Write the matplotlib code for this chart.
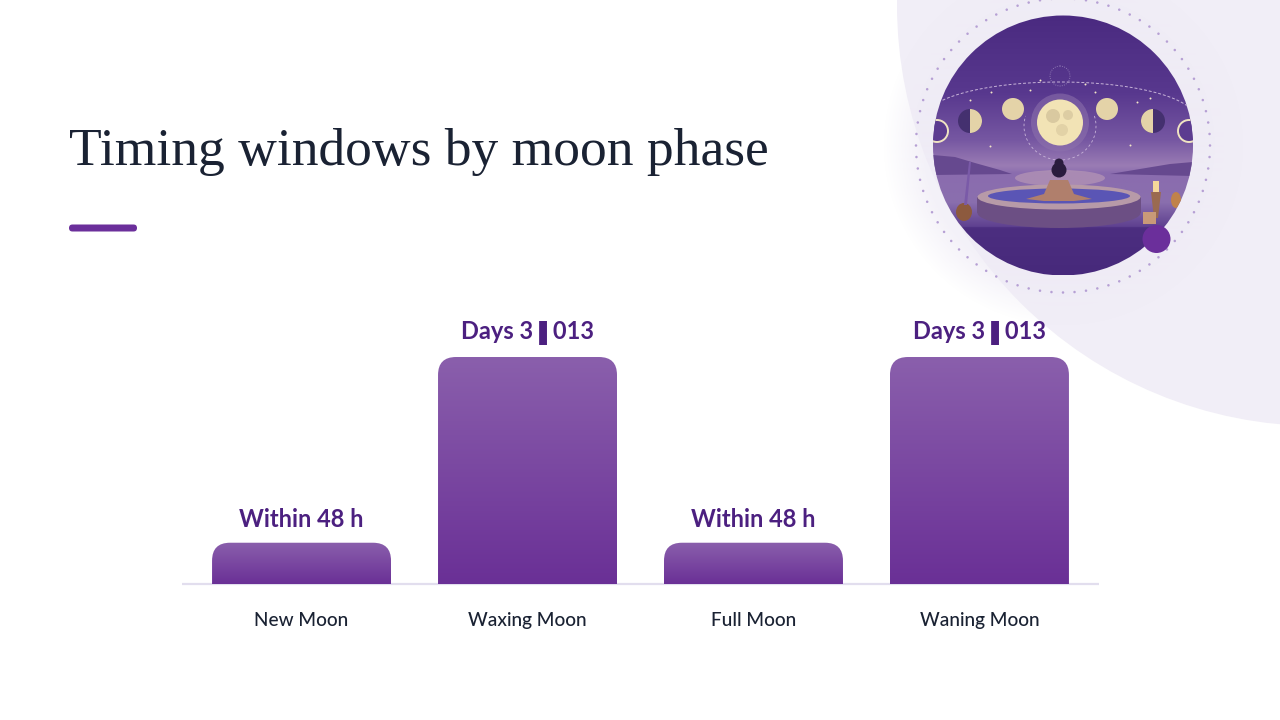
import numpy as np
import matplotlib
matplotlib.use('Agg')
import matplotlib.pyplot as plt
from matplotlib.colors import LinearSegmentedColormap, to_rgb
from matplotlib.patches import Circle, Ellipse, FancyBboxPatch, PathPatch, Polygon, Wedge
from matplotlib.path import Path

phases = ['New Moon', 'Waxing Moon', 'Full Moon', 'Waning Moon']
window_days = [2, 11, 2, 11]
window_labels = ['Within 48 h', 'Days 3\u275a013', 'Within 48 h', 'Days 3\u275a013']

PURPLE = '#6b2f9b'
DARK = '#4c2080'
INK = '#1a2233'

plt.rcParams['font.family'] = ['Lato', 'DejaVu Sans']

fig = plt.figure(figsize=(12.8, 7.2), dpi=100, facecolor='white')

# background layer in pixel coordinates
bg = fig.add_axes([0, 0, 1, 1])
bg.axis('off')

bg.add_patch(Circle((1318, 5), 421, color='#f1eef7', lw=0, zorder=0.2))

# soft glow behind the round picture
yy, xx = np.mgrid[-190:190, -190:190]
dist = np.hypot(xx, yy)
glow = np.zeros(dist.shape + (4,))
glow[..., :3] = to_rgb('#efecf6')
glow[..., 3] = np.clip((180 - dist) / 40, 0, 1) * 0.7
bg.imshow(glow, extent=(873, 1253, 335.5, -44.5), aspect='auto', zorder=0.5)

# dotted ring
for a in np.linspace(0, 2 * np.pi, 80, endpoint=False):
    bg.add_patch(Circle((1063 + 147 * np.cos(a), 145.5 + 147 * np.sin(a)), 1.25,
                        color='#b6a0d4', lw=0, zorder=1.2))

# picture inside the round frame
frame = Circle((1063, 145.5), 130, transform=bg.transData, fc='none', lw=0)
bg.add_patch(frame)
sky = LinearSegmentedColormap.from_list('sky', [
    (0.0, '#4a2a80'), (0.30, '#58388e'), (0.48, '#7657a2'), (0.58, '#9a7cb4'),
    (0.61, '#8a6cae'), (0.72, '#8a6fae'), (0.815, '#5f4190'), (0.82, '#4c2e80'), (1.0, '#47297b')])
img = bg.imshow(np.linspace(0, 1, 256).reshape(-1, 1), cmap=sky, aspect='auto',
                extent=(933, 1193, 275.5, 15.5), zorder=1)
img.set_clip_path(frame)
bg.set_xlim(0, 1280)
bg.set_ylim(720, 0)


def scene(patch):
    patch.set_zorder(2)
    bg.add_patch(patch)
    patch.set_clip_path(frame)
    return patch


# hills and glow
scene(Polygon([(933, 155), (955, 157), (975, 163), (1000, 170), (1012, 174), (933, 175)], fc='#66498f', lw=0))
scene(Polygon([(1193, 162), (1170, 164), (1140, 169), (1110, 174), (1193, 176)], fc='#66498f', lw=0))
scene(Ellipse((1060, 178), 90, 16, fc='#e3c3bd', alpha=0.35, lw=0))

# moons
scene(Circle((1060, 122.5), 29, fc='#8e72ad', alpha=0.55, lw=0))
scene(Circle((1060, 122.5), 23, fc='#f2e3b5', lw=0))
scene(Circle((1053, 116), 7, fc='#cfbf98', alpha=0.7, lw=0))
scene(Circle((1068, 115), 5, fc='#cfbf98', alpha=0.6, lw=0))
scene(Circle((1062, 130), 6, fc='#d8c79d', alpha=0.6, lw=0))
for x in (1013, 1107):
    scene(Circle((x, 109), 11, fc='#e4d3a8', lw=0))
scene(Circle((970, 121), 12, fc='#44306f', lw=0))
scene(Wedge((970, 121), 12, -90, 90, fc='#e4d3a8', lw=0))
scene(Circle((1153, 121), 12, fc='#44306f', lw=0))
scene(Wedge((1153, 121), 12, 90, 270, fc='#e4d3a8', lw=0))
scene(Circle((937, 131), 11, fc='#5c3c90', ec='#f0e4c2', lw=1.4))
scene(Circle((1189, 131), 11, fc='#5c3c90', ec='#f0e4c2', lw=1.4))

# orbit arc, rings round the full moon and stars
t = np.linspace(0, np.pi, 80)
bg.plot(1060 + 135 * np.cos(t), 118 - 36 * np.sin(t), color='#c7b3d8', lw=0.7,
        ls=(0, (3, 2)), zorder=1.5, clip_path=frame)
t = np.linspace(-0.3, np.pi + 0.3, 60)
bg.plot(1060 + 36 * np.cos(t), 126 + 34 * np.sin(t), color='#c7b3d8', lw=0.6,
        ls=(0, (3, 3)), zorder=1.5, clip_path=frame)
bg.add_patch(Circle((1060, 76), 10, fc='none', ec='#a08cc0', lw=0.6, ls=':', zorder=2))
bg.scatter([970, 991, 1040, 1085, 1137, 1150, 990, 1130, 1030, 1095],
           [100, 92, 80, 84, 102, 98, 146, 145, 90, 92],
           s=2, color='#f3e6c8', lw=0, zorder=2)

# tub and bather
scene(Ellipse((1059, 213), 163, 30, fc='#6c4f84', lw=0))
scene(Polygon([(977, 197), (1141, 197), (1141, 213), (977, 213)], fc='#6c4f84', lw=0))
scene(Ellipse((1059, 197), 163, 25, fc='#b79aa8', lw=0))
scene(Ellipse((1059, 196), 142, 15, fc='#5a55b5', lw=0))
scene(Polygon([(1026, 199), (1044, 194), (1050, 180), (1068, 180), (1074, 194), (1092, 199),
               (1074, 201), (1044, 201)], fc='#b07f6c', lw=0))
scene(Circle((1059, 170), 7.5, fc='#2a1c3e', lw=0))
scene(Circle((1059, 163), 4.5, fc='#2a1c3e', lw=0))

# candles and vase
scene(Ellipse((964, 212), 16, 18, fc='#8d5a3e', lw=0))
scene(Polygon([(969, 162), (971, 162), (967, 205), (964, 205)], fc='#7a5aa8', lw=0))
scene(Polygon([(1153, 181), (1153, 192), (1159, 192), (1159, 181)], fc='#f6d79a', lw=0))
scene(Polygon([(1151, 192), (1161, 192), (1158, 218), (1154, 218)], fc='#9a6a50', lw=0))
scene(Polygon([(1143, 212), (1143, 224), (1156, 224), (1156, 212)], fc='#c99a78', lw=0))
scene(Ellipse((1176, 200), 10, 16, fc='#c0824a', lw=0))

bg.add_patch(Circle((1156.5, 239), 14, fc=PURPLE, lw=0, zorder=3))

# title and accent
bg.text(69, 165, 'Timing windows by moon phase', fontsize=38.5, color=INK,
        family=['Liberation Serif', 'DejaVu Serif'], ha='left', va='baseline')
bg.add_patch(FancyBboxPatch((69, 224.5), 68, 7, boxstyle='round,pad=0,rounding_size=3.5', fc=PURPLE, lw=0))

# chart axes
ax = fig.add_axes([182 / 1280, 1 - 584 / 720, 917 / 1280, 227 / 720])
ax.patch.set_alpha(0)
for s in ('top', 'left', 'right'):
    ax.spines[s].set_visible(False)
ax.spines['bottom'].set_color('#e2deee')
ax.spines['bottom'].set_linewidth(1.6)
ax.spines['bottom'].set_capstyle('butt')
ax.set_yticks([])
ax.set_xticks(range(len(phases)), phases, fontsize=13.7, color=INK, fontweight='medium')
ax.tick_params(axis='x', length=0, pad=20.5)

bar_cmap = LinearSegmentedColormap.from_list('bar', ['#8a5fac', '#6a3096'])
bar_w = 0.792
rx = 18 / 226
ry = 18 / (227 / 11)
for i, (v, label) in enumerate(zip(window_days, window_labels)):
    l, r = i - bar_w / 2, i + bar_w / 2
    verts = [(l, 0), (l, v - ry), (l, v), (l + rx, v), (r - rx, v), (r, v), (r, v - ry), (r, 0), (l, 0)]
    codes = [Path.MOVETO, Path.LINETO, Path.CURVE3, Path.CURVE3, Path.LINETO,
             Path.CURVE3, Path.CURVE3, Path.LINETO, Path.CLOSEPOLY]
    shape = PathPatch(Path(verts, codes), fc='none', ec='none', zorder=4)
    ax.add_patch(shape)
    im = ax.imshow(np.linspace(0, 1, 128).reshape(-1, 1), cmap=bar_cmap, aspect='auto',
                   extent=(l, r, 0, v), zorder=3)
    im.set_clip_path(shape)
    ax.annotate(label, (i, v), xytext=(0, 8.5), textcoords='offset points', ha='center', va='bottom',
                fontsize=17, fontweight='bold', color=DARK, annotation_clip=False)
ax.set_xlim(-0.529, 3.529)
ax.set_ylim(0, 11)

fig.savefig('out.png', dpi=100)
